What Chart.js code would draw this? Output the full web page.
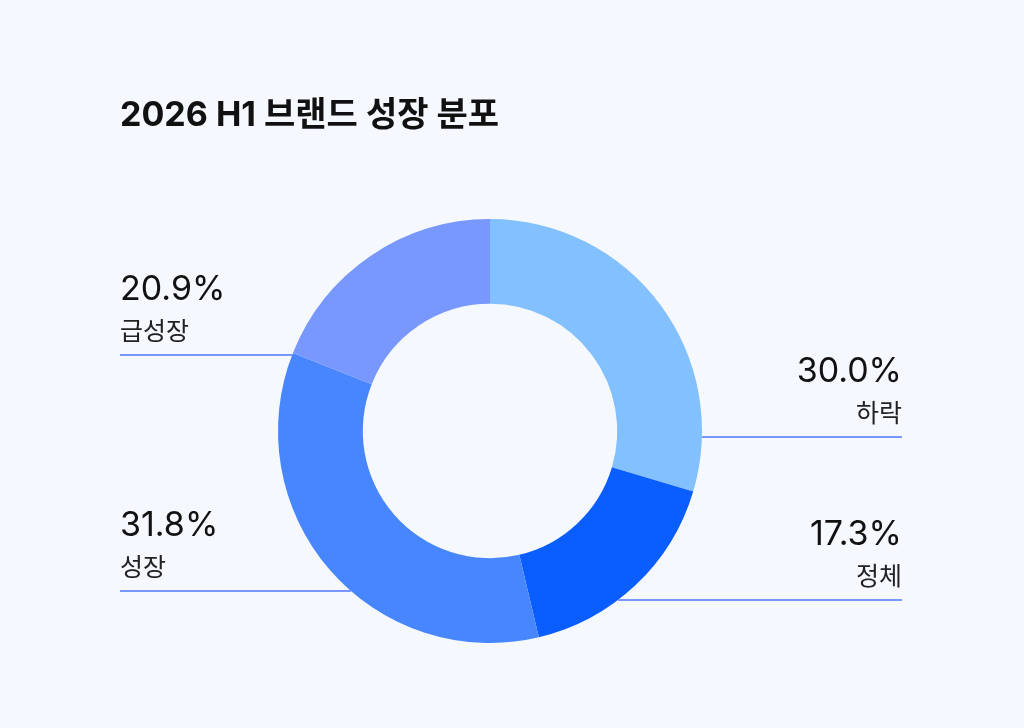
<!DOCTYPE html>
<html lang="ko">
  <head>
    <meta charset="utf-8" />
    <title>2026 H1 브랜드 성장 분포</title>
    <style>
      * {
        margin: 0;
        padding: 0;
      }
      body {
        background: #f5f8ff;
        width: 1024px;
        height: 728px;
        overflow: hidden;
      }
      .chartBox {
        position: relative;
        width: 1024px;
        height: 728px;
      }
    </style>
  </head>
  <body>
    <div class="chartBox">
      <canvas id="myChart"></canvas>
    </div>
    <script src="https://cdn.jsdelivr.net/npm/chart.js"></script>
    <script>
      // data
      const title = "2026 H1 브랜드 성장 분포";
      const categories = ["하락", "정체", "성장", "급성장"];
      // printed shares
      const shareLabels = ["30.0%", "17.3%", "31.8%", "20.9%"];
      const sliceValues = [29.6, 16.7, 34.7, 19.0];
      const colors = ["#83c0ff", "#0a5eff", "#4886ff", "#7897ff"];

      const FONT = "Inter, 'Noto Sans CJK KR', 'Noto Sans', sans-serif";

      // where each callout sits: side of the chart + y of its leader line
      const callouts = [
        { side: "right", lineY: 437 },
        { side: "right", lineY: 600 },
        { side: "left", lineY: 591 },
        { side: "left", lineY: 355 }
      ];

      const calloutPlugin = {
        id: "calloutPlugin",
        afterDraw(chart) {
          const { ctx } = chart;
          const arc = chart.getDatasetMeta(0).data[0];
          const cx = arc.x;
          const cy = arc.y;
          const r = arc.outerRadius;
          ctx.save();

          // title
          ctx.fillStyle = "#111111";
          ctx.font = "bold 34px " + FONT;
          ctx.textAlign = "left";
          ctx.textBaseline = "alphabetic";
          ctx.fillText(title, 120, 126);

          categories.forEach((name, i) => {
            const c = callouts[i];
            const dy = c.lineY - cy;
            const dx = Math.sqrt(Math.max(r * r - dy * dy, 0));
            const left = c.side === "left";
            const textX = left ? 120 : 902;
            const ringX = left ? cx - dx : cx + dx;

            ctx.strokeStyle = "#7897ff";
            ctx.lineWidth = 2;
            ctx.beginPath();
            ctx.moveTo(textX, c.lineY);
            ctx.lineTo(ringX, c.lineY);
            ctx.stroke();

            ctx.fillStyle = "#111111";
            ctx.textAlign = left ? "left" : "right";
            ctx.font = "400 34px " + FONT;
            ctx.fillText(shareLabels[i], textX, c.lineY - 55);
            ctx.fillStyle = "#222222";
            ctx.font = "400 25px " + FONT;
            ctx.fillText(name, textX, c.lineY - 15);
          });
          ctx.restore();
        }
      };

      const config = {
        type: "doughnut",
        data: {
          labels: categories,
          datasets: [
            {
              data: sliceValues,
              backgroundColor: colors,
              borderWidth: 0
            }
          ]
        },
        options: {
          responsive: true,
          maintainAspectRatio: false,
          animation: false,
          cutout: "60%",
          layout: {
            padding: { top: 219, bottom: 85, left: 278, right: 322 }
          },
          plugins: {
            legend: { display: false },
            tooltip: { enabled: false }
          }
        },
        plugins: [calloutPlugin]
      };

      const myChart = new Chart(document.getElementById("myChart"), config);
    </script>
  </body>
</html>
